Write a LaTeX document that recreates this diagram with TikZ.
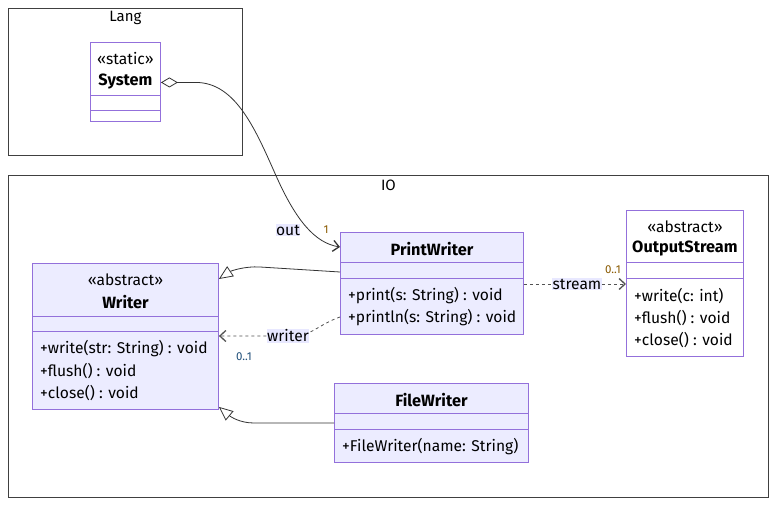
\documentclass[tikz,border=0pt]{standalone}
\usepackage{fontspec}
\setmainfont{Fira Sans}
\usetikzlibrary{arrows.meta,calc}
\definecolor{clsfill}{HTML}{ECECFF}
\definecolor{clsline}{HTML}{9370DB}
\definecolor{edgec}{HTML}{333333}
\definecolor{lblfill}{HTML}{E8E8FF}
\definecolor{multa}{HTML}{8A5A00}
\definecolor{multb}{HTML}{1F4F7A}
\begin{document}
\begin{tikzpicture}[x=1pt,y=-1pt,
  cluster/.style={draw=black!75, line width=0.8pt, fill=white},
  clstitle/.style={font=\fontsize{15}{17}\selectfont, inner sep=0pt},
  classbox/.style={draw=clsline, fill=clsfill, line width=0.9pt, inner sep=0pt},
  whitebox/.style={classbox, fill=white},
  divider/.style={draw=clsline, line width=0.9pt},
  ctitle/.style={font=\fontsize{16.3}{18}\selectfont\bfseries, inner sep=0pt},
  cstereo/.style={font=\fontsize{15.6}{17}\selectfont, inner sep=0pt},
  cmember/.style={font=\fontsize{15.6}{17}\selectfont, inner sep=0pt, anchor=west},
  edgelabel/.style={font=\fontsize{15.6}{17}\selectfont, fill=lblfill, inner sep=0.5pt},
  multlabel/.style={font=\fontsize{11.5}{13}\selectfont, inner sep=0pt},
  rel/.style={draw=edgec, line width=0.8pt},
  inherit/.style={rel, -{Triangle[open, length=14pt, width=12pt, line width=0.8pt]}},
  assoc/.style={rel, -{Straight Barb[length=6pt, width=11pt, line width=1.3pt]}},
  dep/.style={rel, draw=edgec!85, dash pattern=on 3pt off 3pt, -{Straight Barb[length=6pt, width=11pt, line width=1.3pt]}},
]
\useasboundingbox (0,0) rectangle (784,510);

% clusters
\node[cluster, minimum width=234pt, minimum height=147pt, anchor=north west] (lang) at (8,8) {};
\node[clstitle] (langtitle) at ($(lang.north)+(0,10)$) {Lang};
\node[cluster, minimum width=760pt, minimum height=322pt, anchor=north west] (io) at (8,175) {};
\node[clstitle] (iotitle) at ($(io.north)+(0,10)$) {IO};

% System
\node[whitebox, minimum width=70pt, minimum height=79pt, anchor=north west] (sys) at (90,42) {};
\node[cstereo] (sysst) at ($(sys.north)+(0,17)$) {«static»};
\node[ctitle] (sysname) at ($(sys.north)+(0,40)$) {System};
\draw[divider] ($(sys.north west)+(0,53)$) -- ($(sys.north east)+(0,53)$);
\draw[divider] ($(sys.north west)+(0,68)$) -- ($(sys.north east)+(0,68)$);

% Writer
\node[classbox, minimum width=186pt, minimum height=146pt, anchor=north west] (wr) at (32,263) {};
\node[cstereo] (wrst) at ($(wr.north)+(0,17)$) {«abstract»};
\node[ctitle] (wrname) at ($(wr.north)+(0,39)$) {Writer};
\draw[divider] ($(wr.north west)+(0,53)$) -- ($(wr.north east)+(0,53)$);
\draw[divider] ($(wr.north west)+(0,68)$) -- ($(wr.north east)+(0,68)$);
\node[cmember] (wrm1) at ($(wr.north west)+(8,86)$) {+write(str: String) : void};
\node[cmember] (wrm2) at ($(wr.north west)+(8,108)$) {+flush() : void};
\node[cmember] (wrm3) at ($(wr.north west)+(8,130)$) {+close() : void};

% PrintWriter
\node[classbox, minimum width=183pt, minimum height=102pt, anchor=north west] (pw) at (340,232) {};
\node[ctitle] (pwname) at ($(pw.north)+(0,17)$) {PrintWriter};
\draw[divider] ($(pw.north west)+(0,30)$) -- ($(pw.north east)+(0,30)$);
\draw[divider] ($(pw.north west)+(0,46)$) -- ($(pw.north east)+(0,46)$);
\node[cmember] (pwm1) at ($(pw.north west)+(8,64)$) {+print(s: String) : void};
\node[cmember] (pwm2) at ($(pw.north west)+(8,86)$) {+println(s: String) : void};

% OutputStream
\node[whitebox, minimum width=117pt, minimum height=146pt, anchor=north west] (os) at (626,210) {};
\node[cstereo] (osst) at ($(os.north)+(0,17)$) {«abstract»};
\node[ctitle] (osname) at ($(os.north)+(0,39)$) {OutputStream};
\draw[divider] ($(os.north west)+(0,52)$) -- ($(os.north east)+(0,52)$);
\draw[divider] ($(os.north west)+(0,68)$) -- ($(os.north east)+(0,68)$);
\node[cmember] (osm1) at ($(os.north west)+(8,86)$) {+write(c: int)};
\node[cmember] (osm2) at ($(os.north west)+(8,108)$) {+flush() : void};
\node[cmember] (osm3) at ($(os.north west)+(8,130)$) {+close() : void};

% FileWriter
\node[classbox, minimum width=194pt, minimum height=79pt, anchor=north west] (fw) at (334,383) {};
\node[ctitle] (fwname) at ($(fw.north)+(0,17)$) {FileWriter};
\draw[divider] ($(fw.north west)+(0,30)$) -- ($(fw.north east)+(0,30)$);
\draw[divider] ($(fw.north west)+(0,46)$) -- ($(fw.north east)+(0,46)$);
\node[cmember] (fwm1) at ($(fw.north west)+(8,64)$) {+FileWriter(name: String)};

% System o-- PrintWriter : out
\coordinate (outA) at ($(sys.east)+(0,0.5)$);
\coordinate (outB) at ($(pw.north west)+(0,15)$);
\draw[rel, {Diamond[open, length=17pt, width=10pt, line width=0.8pt]}-{Straight Barb[length=6pt, width=11pt, line width=1.3pt]}]
  (outA) -- ++(35,0) .. controls +(40,0) and +(-20,-45) .. ++(80,93)
  .. controls +(20,45) and +(-25,-4) .. (outB);
\node[edgelabel] (outlbl) at (288,230) {out};
\node[multlabel, text=multa] (outm) at (326,230) {1};

% PrintWriter --|> Writer
\coordinate (ih1a) at ($(pw.north west)+(0,40)$);
\coordinate (ih1b) at ($(wr.north east)+(0,16)$);
\draw[inherit] (ih1a) -- ++(-80,-5) .. controls +(-15,-1) and +(12,-8) .. (ih1b);

% FileWriter --|> Writer
\coordinate (ih2a) at ($(fw.north west)+(0,40)$);
\coordinate (ih2b) at ($(wr.south east)+(0,-3)$);
\draw[inherit] (ih2a) -- ++(-80,0) .. controls +(-14,0) and +(12,10) .. (ih2b);

% PrintWriter ..> Writer : writer
\coordinate (wdA) at ($(pw.north west)+(0,85)$);
\coordinate (wdB) at ($(wr.north east)+(0,73)$);
\draw[dep] (wdA) .. controls +(-20,7) and +(15,0) .. ++(-45,19) -- (wdB);
\node[edgelabel] (wlbl) at (288,336) {writer};
\node[multlabel, text=multb] (wm) at (244,357) {0..1};

% PrintWriter ..> OutputStream : stream
\coordinate (sdA) at ($(pw.north east)+(0,52)$);
\coordinate (sdB) at ($(os.north west)+(0,74)$);
\draw[dep] (sdA) -- (sdB);
\node[edgelabel] (slbl) at (577,284) {stream};
\node[multlabel, text=multa] (sm) at (613,270) {0..1};
\end{tikzpicture}
\end{document}
